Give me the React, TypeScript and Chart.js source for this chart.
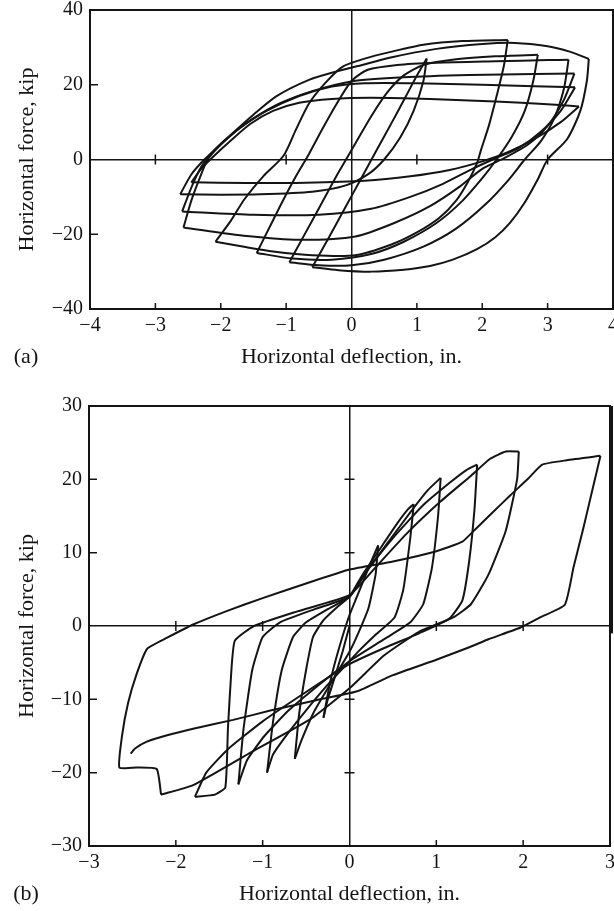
import React, { useEffect, useRef } from 'react';
import { Chart, registerables } from 'chart.js';

Chart.register(...registerables);

type Pt = [number, number];

// ---------- axis ticks ----------
const A_X_TICKS = [-4, -3, -2, -1, 0, 1, 2, 3, 4];
const A_Y_TICKS = [-40, -20, 0, 20, 40];
const B_X_TICKS = [-3, -2, -1, 0, 1, 2, 3];
const B_Y_TICKS = [-30, -20, -10, 0, 10, 20, 30];

// small inner tick marks
const A_BOTTOM_MARKS = [-3, -2, -1, 1, 2, 3];
const A_ZERO_X_MARKS = [-3, -1, 1, 3];
const A_LEFT_MARKS = [20, -20];
const A_ZERO_Y_MARKS: number[] = [];
const B_BOTTOM_MARKS = [-2, -1, 1, 2];
const B_ZERO_X_MARKS = [-2, -1, 1, 2];
const B_LEFT_MARKS = [20, 10, -10, -20];
const B_ZERO_Y_MARKS = [20, 10, -10, -20];

// ---------- panel (a): reloading branches (negative peak -> positive peak) ----------
const A_UP1: Pt[] = [[-0.6, -28.8], [-0.35, -21], [-0.1, -13], [0.15, -5], [0.4, 3], [0.62, 10], [0.82, 16.5], [0.98, 21.8], [1.15, 27]];
const A_UP2: Pt[] = [[-0.95, -27.5], [-0.7, -19.5], [-0.45, -11.5], [-0.2, -3.5], [0.05, 4], [0.3, 11.5], [0.55, 18], [0.8, 22.5], [1.1, 25.3], [1.6, 26.8], [2.2, 27.6], [2.85, 28]];
const A_UP3: Pt[] = [[-1.45, -25], [-1.25, -18], [-1.04, -10.7], [-0.85, -4.5], [-0.65, 1.5], [-0.45, 8], [-0.24, 14.5], [0, 21], [0.25, 24], [0.7, 25.3], [1.3, 25.9], [2.2, 26.3], [3.0, 26.6], [3.32, 26.7]];
const A_UP4: Pt[] = [[-2.08, -22], [-1.85, -16.5], [-1.64, -10.7], [-1.35, -4.5], [-1.04, 1], [-0.85, 8], [-0.65, 15], [-0.4, 20.5], [-0.14, 24.8], [0.2, 27], [0.6, 28.8], [1.1, 30.7], [1.7, 31.7], [2.39, 32]];
const A_UP5: Pt[] = [[-2.57, -18.2], [-2.45, -11], [-2.3, -4], [-2.2, 0], [-2.0, 4], [-1.79, 7.5], [-1.5, 12], [-1.14, 17], [-0.65, 21.3], [-0.24, 23.5], [0.1, 25], [0.6, 27.3], [1.3, 29.6], [2.0, 30.9], [2.5, 31.2], [3.0, 30.3], [3.35, 28.8], [3.63, 26.9]];
const A_UP6: Pt[] = [[-2.59, -13.9], [-2.45, -7.5], [-2.3, -2], [-2.1, 2.5], [-1.85, 6.5], [-1.5, 11], [-1.1, 15], [-0.6, 18.3], [0, 20.9], [0.8, 22], [1.8, 22.6], [2.8, 22.9], [3.41, 23]];
const A_UP7: Pt[] = [[-2.62, -9.3], [-2.45, -4], [-2.25, 0], [-2.0, 4], [-1.7, 8.5], [-1.3, 13], [-0.8, 17], [-0.3, 19.5], [0.2, 20.4], [1, 20.4], [2, 20], [2.8, 19.6], [3.42, 19.3]];
const A_UP8: Pt[] = [[-2.45, -6.1], [-2.3, -2.5], [-2.1, 1], [-1.85, 5], [-1.55, 9.5], [-1.2, 13], [-0.8, 15.2], [-0.3, 16.2], [0.3, 16.5], [1.2, 16.2], [2.2, 15.5], [3, 14.8], [3.48, 14.2]];

// ---------- panel (a): unloading branches (positive peak -> negative peak) ----------
const A_DN1: Pt[] = [[1.15, 27], [1.1, 21], [0.95, 13], [0.75, 6], [0.5, 0], [0.25, -4], [-0.1, -7], [-0.6, -8.6], [-1.4, -9.3], [-2.0, -9.4], [-2.62, -9.3]];
const A_DN2: Pt[] = [[2.39, 32], [2.33, 25], [2.22, 17], [2.1, 9], [1.98, 2.5], [1.92, -1], [1.78, -6], [1.6, -11], [1.35, -15.5], [1.0, -19.5], [0.6, -22.8], [0.06, -25.6], [-0.6, -25.6], [-1.2, -24.6], [-1.6, -23.5], [-2.08, -22]];
const A_DN3: Pt[] = [[2.85, 28], [2.78, 21], [2.65, 13], [2.45, 6], [2.22, 0], [2.0, -5], [1.7, -11], [1.3, -17], [0.8, -22], [0.3, -25.3], [-0.3, -26.8], [-0.9, -26.5], [-1.45, -25]];
const A_DN4: Pt[] = [[3.32, 26.7], [3.25, 19], [3.1, 11], [2.9, 5], [2.65, 0], [2.4, -5.5], [2.05, -12], [1.6, -18.5], [1.1, -23.3], [0.5, -26.8], [0, -28.3], [-0.5, -28.3], [-0.95, -27.5]];
const A_DN5: Pt[] = [[3.63, 26.9], [3.6, 21], [3.5, 13], [3.3, 5.5], [3.0, 0], [2.85, -5.3], [2.65, -11.5], [2.43, -16.8], [2.2, -20.8], [1.92, -24], [1.55, -26.8], [1.2, -28.5], [0.8, -29.5], [0.3, -30], [-0.2, -29.6], [-0.6, -28.8]];
const A_DN6: Pt[] = [[3.41, 23], [3.25, 16], [3.0, 9], [2.7, 4], [2.35, 0.5], [2.0, -2.5], [1.66, -7.2], [1.2, -12.5], [0.68, -16.8], [0.06, -20.6], [-0.8, -21.5], [-1.6, -20.5], [-2.57, -18.2]];
const A_DN7: Pt[] = [[3.42, 19.3], [3.2, 13], [2.9, 7.5], [2.55, 3], [2.2, 0.3], [1.85, -2.5], [1.4, -6.5], [0.9, -10], [0.3, -13.2], [-0.5, -14.8], [-1.5, -14.8], [-2.59, -13.9]];
const A_DN8: Pt[] = [[3.48, 14.2], [3.2, 10], [2.8, 5.5], [2.4, 2], [2.0, -0.5], [1.5, -2.8], [0.9, -4.5], [0.2, -5.7], [-0.7, -6.2], [-1.6, -6.3], [-2.45, -6.1]];

// ---------- panel (b): half-cycles in loading order ----------
const B_H0: Pt[] = [[0, 0], [-0.08, -3.5], [-0.17, -7], [-0.25, -10], [-0.3, -12.5]];
const B_H1: Pt[] = [[-0.3, -12.5], [-0.22, -7.5], [-0.12, -3], [0, 1.5], [0.12, 5], [0.24, 8.5], [0.33, 11]];
const B_H2: Pt[] = [[0.33, 11], [0.3, 7], [0.22, 2.5], [0.1, -1], [0, -3.5], [-0.2, -7.5], [-0.4, -11.5], [-0.55, -15.5], [-0.63, -18.1]];
const B_H3: Pt[] = [[-0.63, -18.1], [-0.58, -12], [-0.5, -6], [-0.42, -1.5], [-0.3, 0.8], [-0.15, 2.5], [0, 4], [0.15, 7], [0.35, 10.5], [0.55, 14], [0.68, 16], [0.74, 16.6]];
const B_H4: Pt[] = [[0.74, 16.6], [0.7, 12], [0.62, 5], [0.52, 1.2], [0.3, -1.2], [0.1, -3.5], [0, -4.8], [-0.25, -8], [-0.5, -11.5], [-0.72, -14.8], [-0.88, -17.5], [-0.95, -20]];
const B_H5: Pt[] = [[-0.95, -20], [-0.88, -13], [-0.78, -6], [-0.65, -1.5], [-0.5, 0.5], [-0.25, 2.3], [0, 4], [0.2, 7.5], [0.45, 11.5], [0.7, 15.5], [0.9, 18.5], [1.05, 20.2]];
const B_H6: Pt[] = [[1.05, 20.2], [1.02, 15], [0.95, 8], [0.85, 3], [0.7, 0.5], [0.4, -1.8], [0, -4.8], [-0.35, -8], [-0.7, -11.5], [-0.98, -15], [-1.18, -18.3], [-1.28, -21.6]];
const B_H7: Pt[] = [[-1.28, -21.6], [-1.22, -14], [-1.12, -6], [-1.0, -1.5], [-0.8, 0.5], [-0.4, 2.3], [0, 4], [0.2, 7.5], [0.5, 12], [0.85, 16.5], [1.15, 19.5], [1.35, 21.3], [1.47, 22]];
const B_H8: Pt[] = [[1.47, 22], [1.44, 16], [1.38, 9], [1.3, 3.5], [1.15, 1], [0.8, -1], [0.4, -3], [0, -5.2], [-0.5, -9], [-1.0, -13], [-1.4, -16.8], [-1.65, -20], [-1.78, -23.3]];
const B_H9: Pt[] = [[-1.78, -23.3], [-1.55, -23], [-1.43, -22], [-1.4, -14], [-1.36, -6], [-1.32, -2], [-1.1, 0], [-0.6, 2], [0, 4.2], [0.3, 8], [0.65, 12.5], [1.05, 17], [1.4, 20.5], [1.62, 22.8], [1.8, 23.8], [1.95, 23.8]];
const B_H10: Pt[] = [[1.95, 23.8], [1.93, 20], [1.8, 13], [1.6, 7], [1.4, 3], [1.2, 1.2], [0.8, -0.8], [0.4, -4], [0, -8.5], [-0.45, -12.7], [-1.13, -17.2], [-1.8, -21.7], [-2.17, -23]];
const B_H11: Pt[] = [[-2.17, -23], [-2.22, -19.5], [-2.45, -19.3], [-2.65, -19.3], [-2.62, -15], [-2.55, -10.5], [-2.45, -6.5], [-2.33, -3.1], [-2.1, -1.6], [-1.8, 0.2], [-1.4, 2.1], [-1.0, 3.8], [-0.5, 5.8], [0, 7.7], [0.5, 8.8], [1.0, 10.2], [1.3, 11.5], [1.45, 13.2], [1.65, 15.5], [1.85, 17.8], [2.05, 20], [2.22, 22], [2.5, 22.6], [2.89, 23.2]];
const B_H12: Pt[] = [[2.89, 23.2], [2.79, 18.2], [2.69, 13.2], [2.58, 8], [2.48, 2.9], [2.2, 1.2], [1.97, -0.2], [1.6, -1.8], [1.38, -2.9], [1.0, -4.6], [0.5, -6.7], [0.09, -8.9], [-0.3, -9.9], [-0.9, -11.5], [-1.34, -12.8], [-1.8, -14], [-2.1, -14.9], [-2.34, -15.8], [-2.47, -16.7], [-2.52, -17.4]];

const A_BRANCHES = [A_UP1, A_UP2, A_UP3, A_UP4, A_UP5, A_UP6, A_UP7, A_UP8, A_DN1, A_DN2, A_DN3, A_DN4, A_DN5, A_DN6, A_DN7, A_DN8];
const B_BRANCHES = [B_H0, B_H1, B_H2, B_H3, B_H4, B_H5, B_H6, B_H7, B_H8, B_H9, B_H10, B_H11, B_H12];

const FONT = "'Liberation Serif', 'Times New Roman', serif";
const INK = '#141414';

const fmt = (v: number | string) => {
  const n = Number(v);
  return n < 0 ? '\u2212' + Math.abs(n) : String(n);
};

interface PanelOpts {
  branches: Pt[][];
  xMin: number; xMax: number; yMin: number; yMax: number;
  xTicks: number[]; yTicks: number[];
  bottomMarks: number[]; zeroXMarks: number[]; leftMarks: number[]; zeroYMarks: number[];
  yAxisWidth: number; padRight: number; label: string; tension: number;
  rightBarTo: number | null;
}

function buildConfig(o: PanelOpts): any {
  const framePlugin = {
    id: 'frameAndMarks',
    afterDraw(chart: any) {
      const { ctx, chartArea: a, scales } = chart;
      const xs = scales.x;
      const ys = scales.y;
      ctx.save();
      ctx.strokeStyle = INK;
      ctx.lineWidth = 2;
      ctx.strokeRect(a.left, a.top, a.right - a.left, a.bottom - a.top);
      if (o.rightBarTo !== null) {
        ctx.lineWidth = 4;
        ctx.beginPath();
        ctx.moveTo(a.right + 1, a.top);
        ctx.lineTo(a.right + 1, ys.getPixelForValue(o.rightBarTo));
        ctx.stroke();
      }
      ctx.lineWidth = 1.5;
      ctx.beginPath();
      const y0 = ys.getPixelForValue(0);
      const x0 = xs.getPixelForValue(0);
      for (const v of o.bottomMarks) {
        const px = xs.getPixelForValue(v);
        ctx.moveTo(px, a.bottom);
        ctx.lineTo(px, a.bottom - 6);
      }
      for (const v of o.zeroXMarks) {
        const px = xs.getPixelForValue(v);
        ctx.moveTo(px, y0 - 5);
        ctx.lineTo(px, y0 + 5);
      }
      for (const v of o.leftMarks) {
        const py = ys.getPixelForValue(v);
        ctx.moveTo(a.left, py);
        ctx.lineTo(a.left + 8, py);
      }
      for (const v of o.zeroYMarks) {
        const py = ys.getPixelForValue(v);
        ctx.moveTo(x0 - 5, py);
        ctx.lineTo(x0 + 5, py);
      }
      ctx.stroke();
      ctx.fillStyle = INK;
      ctx.font = `22px ${FONT}`;
      ctx.textAlign = 'center';
      ctx.textBaseline = 'middle';
      ctx.fillText(o.label, 26, chart.height - 15);
      ctx.restore();
    },
  };

  return {
    type: 'scatter',
    data: {
      datasets: o.branches.map((b) => ({
        data: b.map(([x, y]) => ({ x, y })),
        showLine: true,
        borderColor: INK,
        borderWidth: 2,
        pointRadius: 0,
        pointHoverRadius: 0,
        tension: o.tension,
        fill: false,
      })),
    },
    options: {
      animation: false,
      responsive: false,
      maintainAspectRatio: false,
      events: [],
      layout: { padding: { left: 0, top: 10, right: o.padRight, bottom: 0 } },
      plugins: { legend: { display: false }, tooltip: { enabled: false }, title: { display: false } },
      scales: {
        x: {
          type: 'linear',
          min: o.xMin,
          max: o.xMax,
          afterBuildTicks: (s: any) => { s.ticks = o.xTicks.map((v) => ({ value: v })); },
          afterFit: (s: any) => { s.height = 63; s.paddingLeft = 0; s.paddingRight = 0; },
          ticks: { callback: fmt, font: { family: FONT, size: 20 }, color: INK, padding: 5, maxRotation: 0, autoSkip: false },
          grid: {
            drawTicks: false,
            lineWidth: 1.5,
            color: (c: any) => (c.tick && c.tick.value === 0 ? INK : 'rgba(0,0,0,0)'),
          },
          border: { display: false },
          title: { display: true, text: 'Horizontal deflection, in.', font: { family: FONT, size: 22 }, color: INK, padding: { top: 0, bottom: 2 } },
        },
        y: {
          type: 'linear',
          min: o.yMin,
          max: o.yMax,
          afterBuildTicks: (s: any) => { s.ticks = o.yTicks.map((v) => ({ value: v })); },
          afterFit: (s: any) => { s.width = o.yAxisWidth; s.paddingTop = 0; s.paddingBottom = 0; },
          ticks: { callback: fmt, font: { family: FONT, size: 20 }, color: INK, padding: 7, autoSkip: false },
          grid: {
            drawTicks: false,
            lineWidth: 1.5,
            color: (c: any) => (c.tick && c.tick.value === 0 ? INK : 'rgba(0,0,0,0)'),
          },
          border: { display: false },
          title: { display: true, text: 'Horizontal force, kip', font: { family: FONT, size: 22 }, color: INK, padding: { top: 14, bottom: 0 } },
        },
      },
    },
    plugins: [framePlugin],
  };
}

export default function App() {
  const refA = useRef<HTMLCanvasElement>(null);
  const refB = useRef<HTMLCanvasElement>(null);

  useEffect(() => {
    const a = new Chart(refA.current as HTMLCanvasElement, buildConfig({
      branches: A_BRANCHES,
      xMin: -4, xMax: 4, yMin: -40, yMax: 40,
      xTicks: A_X_TICKS, yTicks: A_Y_TICKS,
      bottomMarks: A_BOTTOM_MARKS, zeroXMarks: A_ZERO_X_MARKS, leftMarks: A_LEFT_MARKS, zeroYMarks: A_ZERO_Y_MARKS,
      yAxisWidth: 90, padRight: 1, label: '(a)', tension: 0.25, rightBarTo: null,
    }));
    const b = new Chart(refB.current as HTMLCanvasElement, buildConfig({
      branches: B_BRANCHES,
      xMin: -3, xMax: 3, yMin: -30, yMax: 30,
      xTicks: B_X_TICKS, yTicks: B_Y_TICKS,
      bottomMarks: B_BOTTOM_MARKS, zeroXMarks: B_ZERO_X_MARKS, leftMarks: B_LEFT_MARKS, zeroYMarks: B_ZERO_Y_MARKS,
      yAxisWidth: 89, padRight: 4, label: '(b)', tension: 0.15, rightBarTo: -1,
    }));
    return () => { a.destroy(); b.destroy(); };
  }, []);

  return (
    <div style={{ position: 'absolute', left: 0, top: 0, width: 614, height: 911, background: '#fff', overflow: 'hidden' }}>
      <canvas ref={refA} width={614} height={372} style={{ position: 'absolute', left: 0, top: 0 }} />
      <canvas ref={refB} width={614} height={513} style={{ position: 'absolute', left: 0, top: 396 }} />
    </div>
  );
}
